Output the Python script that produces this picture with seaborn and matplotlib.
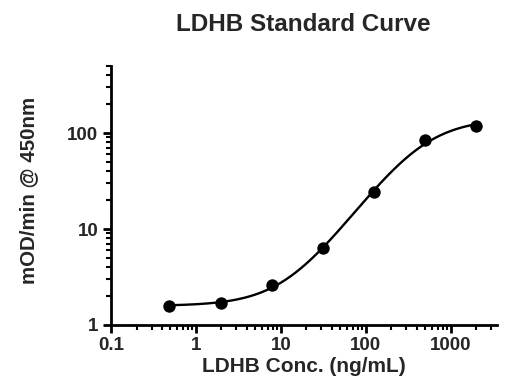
import numpy as np
import pandas as pd
import matplotlib
matplotlib.use("Agg")
import matplotlib.pyplot as plt
import seaborn as sns
from matplotlib.ticker import LogLocator, FixedLocator, FixedFormatter, NullFormatter

# standard points
conc = [0.488, 1.953, 7.8125, 31.25, 125, 500, 2000]
rate = [1.58, 1.69, 2.62, 6.36, 24.3, 84.5, 119]

# 4PL fit parameters of the drawn curve
fit_bottom = 1.58
fit_top = 142.0
fit_ec50 = 440.9
fit_hill = 1.26

x_ticks = [0.1, 1, 10, 100, 1000]
x_labels = ["0.1", "1", "10", "100", "1000"]
y_ticks = [1, 10, 100]
y_labels = ["1", "10", "100"]

pts = pd.DataFrame({"conc": conc, "rate": rate})
xs = np.logspace(np.log10(conc[0]), np.log10(conc[-1]), 300)
curve = pd.DataFrame({
    "conc": xs,
    "rate": fit_bottom + (fit_top - fit_bottom) / (1 + (fit_ec50 / xs) ** fit_hill),
})

sns.set_style("ticks")
plt.rcParams["font.family"] = ["Liberation Sans", "DejaVu Sans"]

fig = plt.figure(figsize=(5.15, 3.88), dpi=100)
ax = fig.add_axes([0.2155, 0.1624, 0.7495, 0.6676])

sns.lineplot(data=curve, x="conc", y="rate", color="black", linewidth=1.7, ax=ax)
sns.scatterplot(data=pts, x="conc", y="rate", color="black", s=80,
                edgecolor="black", linewidth=0, zorder=3, ax=ax)

ax.set_xscale("log")
ax.set_yscale("log")
ax.set_xlim(0.1, 3500)
ax.set_ylim(1, 500)

ax.xaxis.set_major_locator(FixedLocator(x_ticks))
ax.xaxis.set_major_formatter(FixedFormatter(x_labels))
ax.xaxis.set_minor_locator(LogLocator(base=10, subs=np.arange(2, 10)))
ax.xaxis.set_minor_formatter(NullFormatter())
ax.yaxis.set_major_locator(FixedLocator(y_ticks))
ax.yaxis.set_major_formatter(FixedFormatter(y_labels))
ax.yaxis.set_minor_locator(LogLocator(base=10, subs=np.arange(2, 10)))
ax.yaxis.set_minor_formatter(NullFormatter())

for side in ["top", "right"]:
    ax.spines[side].set_visible(False)
for side in ["left", "bottom"]:
    ax.spines[side].set_linewidth(2)
    ax.spines[side].set_color("black")

ax.tick_params(which="major", length=6, width=2, color="black",
               labelsize=13.5, pad=3)
ax.tick_params(which="minor", length=3.5, width=1.5, color="black")
for lab in ax.get_xticklabels() + ax.get_yticklabels():
    lab.set_fontweight("bold")

ax.set_xlabel("LDHB Conc. (ng/mL)", fontsize=15, fontweight="bold", labelpad=2)
ax.set_ylabel("mOD/min @ 450nm", fontsize=14.8, fontweight="bold")
ax.yaxis.set_label_coords(-0.19, 0.52)
fig.text(0.588, 0.936, "LDHB Standard Curve", ha="center", va="center",
         fontsize=17.5, fontweight="bold")

fig.savefig("out.png", dpi=100)
